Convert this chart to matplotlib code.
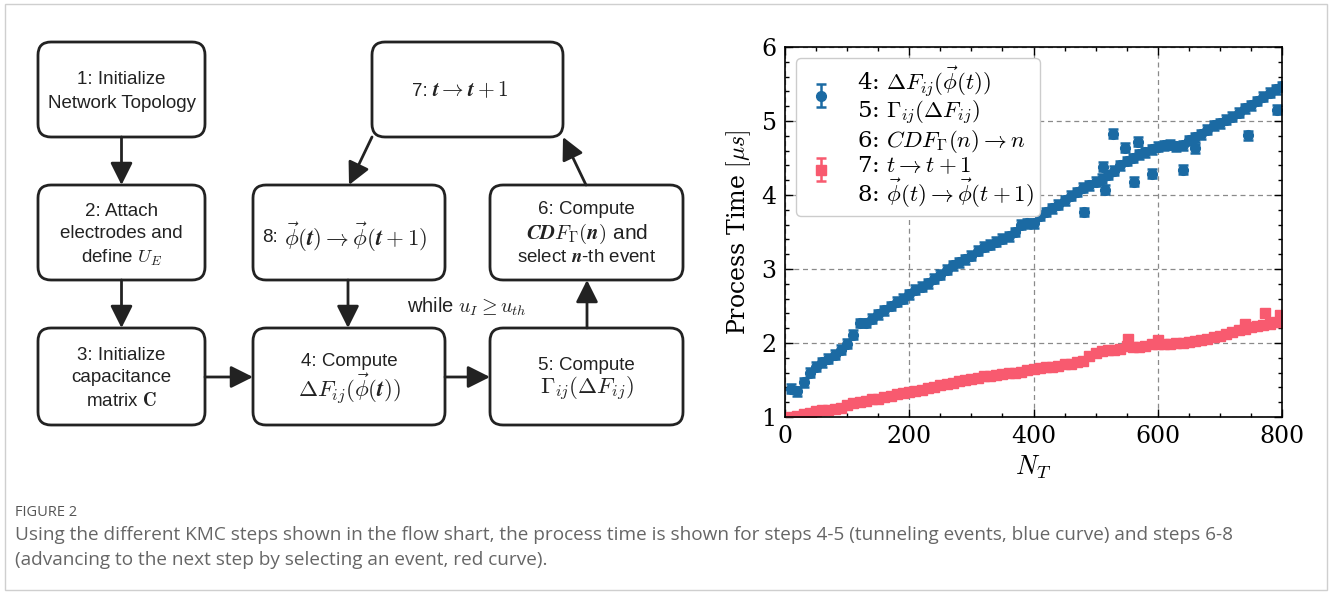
import numpy as np
import matplotlib
matplotlib.use("Agg")
import matplotlib.pyplot as plt
from matplotlib.patches import FancyBboxPatch, Rectangle
from matplotlib.ticker import MultipleLocator

plt.rcParams['mathtext.fontset'] = 'cm'
plt.rcParams['axes.unicode_minus'] = False

# process time per step (every 10 N_T)
n_t = np.arange(10, 801, 10)
blue_time = [1.38, 1.35, 1.47, 1.60, 1.68, 1.74, 1.79, 1.84, 1.91, 1.99,
             2.11, 2.27, 2.27, 2.33, 2.39, 2.44, 2.50, 2.56, 2.60, 2.66,
             2.72, 2.76, 2.81, 2.87, 2.92, 2.99, 3.05, 3.09, 3.13, 3.18,
             3.25, 3.30, 3.33, 3.37, 3.41, 3.44, 3.50, 3.60, 3.62, 3.62,
             3.72, 3.77, 3.82, 3.87, 3.93, 3.99, 4.04, 4.10, 4.13, 4.18,
             4.22, 4.27, 4.33, 4.40, 4.46, 4.50, 4.55, 4.58, 4.62, 4.65,
             4.67, 4.68, 4.66, 4.67, 4.74, 4.78, 4.82, 4.88, 4.94, 4.97,
             5.02, 5.06, 5.11, 5.17, 5.21, 5.27, 5.33, 5.38, 5.43, 5.47]
red_time = [1.00, 1.02, 1.04, 1.06, 1.08, 1.09, 1.10, 1.11, 1.12, 1.16,
            1.19, 1.20, 1.22, 1.24, 1.25, 1.27, 1.29, 1.31, 1.32, 1.34,
            1.35, 1.37, 1.39, 1.41, 1.43, 1.45, 1.46, 1.48, 1.50, 1.51,
            1.53, 1.55, 1.56, 1.57, 1.58, 1.59, 1.60, 1.61, 1.63, 1.65,
            1.66, 1.67, 1.68, 1.69, 1.71, 1.72, 1.74, 1.76, 1.82, 1.87,
            1.89, 1.90, 1.90, 1.92, 1.96, 1.95, 1.94, 1.96, 1.98, 1.98,
            1.98, 1.99, 2.00, 2.00, 2.02, 2.03, 2.04, 2.06, 2.08, 2.10,
            2.12, 2.15, 2.17, 2.19, 2.21, 2.23, 2.25, 2.26, 2.28, 2.29]
# scattered outliers
blue_out_n = [482, 512, 515, 528, 548, 562, 569, 590, 640, 660, 746, 792]
blue_out_t = [3.77, 4.38, 4.07, 4.83, 4.64, 4.18, 4.72, 4.29, 4.34, 4.63, 4.81, 5.15]
red_out_n = [552, 600, 741, 773, 797]
red_out_t = [2.06, 2.04, 2.26, 2.40, 2.38]
blue_err = 0.06
red_err = 0.05

blue = '#1b6aa3'
red = '#f85a6f'
dark = '#222222'

fig = plt.figure(figsize=(13.32, 5.94), dpi=100)

# full-figure axes in pixel units for the flow chart and caption
fc = fig.add_axes([0, 0, 1, 1])
fc.set_xlim(0, 1332)
fc.set_ylim(594, 0)
fc.axis('off')

fc.add_patch(Rectangle((5, 4), 1322, 586, fill=False, ec='#cfcfcf', lw=1))

B = r'\boldsymbol'
boxes = [
    (38, 42, 205, 137), (38, 185, 205, 280), (38, 328, 205, 425),
    (253, 185, 445, 280), (253, 328, 445, 425), (372, 42, 563, 137),
    (490, 185, 683, 280), (490, 328, 683, 425),
]
for x0, y0, x1, y1 in boxes:
    fc.add_patch(FancyBboxPatch((x0, y0), x1 - x0, y1 - y0,
                                boxstyle='round,pad=0,rounding_size=13',
                                fc='white', ec=dark, lw=2))

# (x, y, text, fontsize, horizontal alignment)
labels = [
    (121.5, 79, '1: Initialize', 13.5, 'center'),
    (121.5, 103, 'Network Topology', 13.5, 'center'),
    (121.5, 211, '2: Attach', 13.5, 'center'),
    (121.5, 234, 'electrodes and', 13.5, 'center'),
    (121.5, 258, 'define $' + B + '{U_E}$', 13.5, 'center'),
    (121.5, 355, '3: Initialize', 13.5, 'center'),
    (121.5, 378, 'capacitance', 13.5, 'center'),
    (121.5, 401, 'matrix $\\mathbf{C}$', 13.5, 'center'),
    (262, 237, '8:', 13.5, 'left'),
    (284, 237, '$' + B + '{\\vec{\\phi}(t) \\rightarrow \\vec{\\phi}(t+1)}$', 16.5, 'left'),
    (349, 362, '4: Compute', 13.5, 'center'),
    (349, 389, '$' + B + '{\\Delta F_{ij}(\\vec{\\phi}(t))}$', 16.5, 'center'),
    (412, 91, '7:', 13.5, 'left'),
    (432, 91, '$' + B + '{t \\rightarrow t+1}$', 15.5, 'left'),
    (586.5, 210, '6: Compute', 13.5, 'center'),
    (586.5, 234, '$' + B + '{CDF_{\\Gamma}(n)}$ and', 15, 'center'),
    (586.5, 257, 'select $' + B + '{n}$-th event', 13.5, 'center'),
    (586.5, 365, '5: Compute', 13.5, 'center'),
    (586.5, 389, '$' + B + '{\\Gamma_{ij}(\\Delta F_{ij})}$', 16.5, 'center'),
    (467, 307, 'while $' + B + '{u_I \\geq u_{th}}$', 14.5, 'center'),
]
for x, y, txt, size, ha in labels:
    fc.text(x, y, txt, ha=ha, va='center', fontsize=size,
            family='Liberation Sans', color=dark)

arrows = [
    ((121.5, 137), (121.5, 185)),
    ((121.5, 280), (121.5, 328)),
    ((205, 377), (253, 377)),
    ((348, 280), (348, 328)),
    ((445, 377), (490, 377)),
    ((587, 328), (587, 280)),
    ((586, 185), (563, 137)),
    ((372, 137), (349, 185)),
]
for start, end in arrows:
    fc.annotate('', xy=end, xytext=start,
                arrowprops=dict(arrowstyle='-|>,head_length=0.9,head_width=0.45',
                                lw=2, color=dark, mutation_scale=15,
                                shrinkA=0, shrinkB=0))

# caption
fc.text(15, 513, 'FIGURE 2', fontsize=10.5, family='Open Sans', color='#555555', va='center')
fc.text(15, 535, 'Using the different KMC steps shown in the flow shart, the process time is shown '
        'for steps 4-5 (tunneling events, blue curve) and steps 6-8',
        fontsize=13.7, family='Open Sans', color='#666666', va='center')
fc.text(15, 560, '(advancing to the next step by selecting an event, red curve).',
        fontsize=13.7, family='Open Sans', color='#666666', va='center')

# process time plot
ax = fig.add_axes([785 / 1332, 1 - 417 / 594, 497 / 1332, 370 / 594])
with plt.rc_context({'font.family': 'serif', 'font.serif': ['cmr10'],
                     'axes.formatter.use_mathtext': True}):
    kw = dict(capsize=3.5, elinewidth=1.8, capthick=1.8)
    ax.errorbar(n_t, blue_time, yerr=blue_err, fmt='o', color=blue, ms=7,
                label='4: $\\Delta F_{ij}(\\vec{\\phi}(t))$\n5: $\\Gamma_{ij}(\\Delta F_{ij})$', **kw)
    ax.errorbar(blue_out_n, blue_out_t, yerr=blue_err, fmt='o', color=blue, ms=7, **kw)
    ax.errorbar(n_t, red_time, yerr=red_err, fmt='s', color=red, ms=6.5,
                label='6: $CDF_{\\Gamma}(n) \\rightarrow n$\n7: $t \\rightarrow t+1$\n'
                      '8: $\\vec{\\phi}(t) \\rightarrow \\vec{\\phi}(t+1)$', **kw)
    ax.errorbar(red_out_n, red_out_t, yerr=red_err, fmt='s', color=red, ms=6.5, **kw)

    ax.set_xlim(0, 800)
    ax.set_ylim(1, 6)
    ax.xaxis.set_major_locator(MultipleLocator(200))
    ax.xaxis.set_minor_locator(MultipleLocator(50))
    ax.yaxis.set_major_locator(MultipleLocator(1))
    ax.yaxis.set_minor_locator(MultipleLocator(0.2))
    ax.tick_params(which='both', direction='in', top=True, right=True, width=1)
    ax.tick_params(which='major', length=6, labelsize=17, pad=6)
    ax.tick_params(which='minor', length=3)
    for lab in ax.get_xticklabels() + ax.get_yticklabels():
        lab.set_family('serif')
    ax.grid(True, which='major', ls=(0, (4, 3)), color='#8a8a8a', lw=0.9)
    ax.set_axisbelow(True)
    for sp in ax.spines.values():
        sp.set_linewidth(1.2)
    ax.set_xlabel('$N_T$', fontsize=19, labelpad=4)
    ax.set_ylabel('Process Time $[\\mu s]$', fontsize=17, family='serif', labelpad=6)
    leg = ax.legend(loc='upper left', frameon=True, fancybox=True,
                    edgecolor='#cccccc', framealpha=1, borderaxespad=0.5,
                    borderpad=0.25, handlelength=1.6, labelspacing=0.05,
                    prop={'family': 'serif', 'size': 16.5})
    for t in leg.get_texts():
        t.set_linespacing(1.0)

fig.savefig('out.png', dpi=100)
